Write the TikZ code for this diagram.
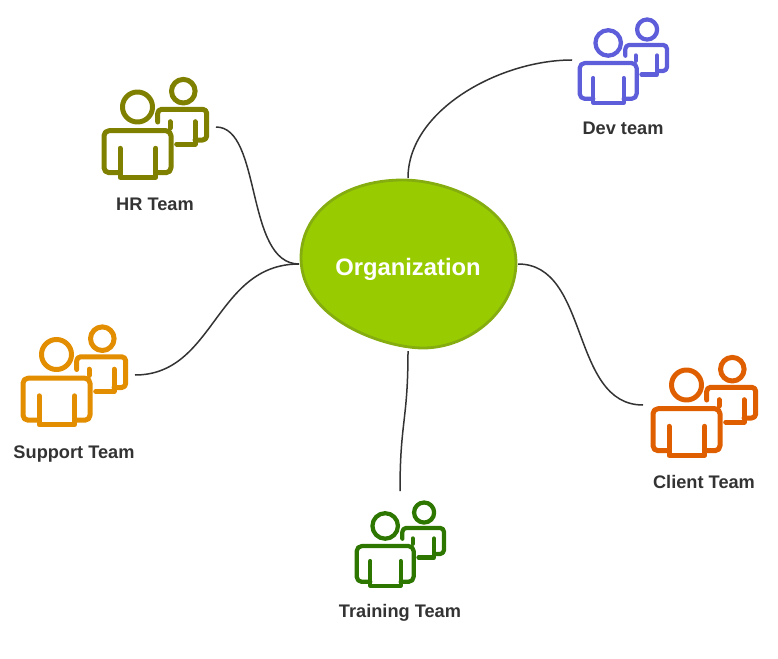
\documentclass[tikz,border=0pt]{standalone}
\usepackage{fontspec}
\setmainfont{Liberation Sans}
\definecolor{hrc}{HTML}{808000}
\definecolor{devc}{HTML}{5E5EDB}
\definecolor{clientc}{HTML}{DF5F00}
\definecolor{supportc}{HTML}{E38E00}
\definecolor{trainc}{HTML}{2D7600}
\definecolor{blobfill}{HTML}{99CC00}
\definecolor{blobline}{HTML}{85AD10}
\definecolor{ink}{HTML}{333333}
\tikzset{
  team label/.style={font=\fontsize{18.2pt}{20pt}\selectfont\bfseries,text=ink,inner sep=0pt,anchor=base},
  org label/.style={font=\fontsize{23.8pt}{26pt}\selectfont\bfseries,text=white,inner sep=0pt,anchor=base},
  link/.style={draw=ink,line width=1.5pt},
  iconline/.style={line cap=round,line join=round,fill=none},
}
\newcommand{\teamicon}[4]{%
  \begin{scope}[shift={(#1,#2)},scale=#3,iconline,draw=#4,line width=#3*5pt]
    \draw (81.3,11.2) circle (11.8);
    \draw[rounded corners=4] (55.7,42) -- (55.7,29.3) -- (104.7,29.3) -- (104.7,60) -- (93,60);
    \draw (68,41.7) -- (68,48);
    \draw (93,41.7) -- (93,64) -- (74.7,64);
    \draw (35.5,27) circle (15);
    \draw[rounded corners=5] (18,92.7) -- (2,92.7) -- (2,50.7) -- (69,50.7) -- (69,92.7) -- (53.7,92.7);
    \draw (18,68.3) -- (18,97.3) -- (53.7,97.3) -- (53.7,68.3);
  \end{scope}}
\begin{document}
\begin{tikzpicture}[x=1pt,y=-1pt]
  \useasboundingbox (0,0) rectangle (778,658);
  \coordinate (orgT) at (408,178);
  \coordinate (orgL) at (299,264);
  \coordinate (orgR) at (518,264);
  \coordinate (orgB) at (408,351);
  \coordinate (devEnd) at (572,60);
  \coordinate (hrEnd) at (216,127);
  \coordinate (supEnd) at (135,375);
  \coordinate (cliEnd) at (643,405);
  \coordinate (traEnd) at (400,491);
  \draw[link] (orgT) .. controls (408,110) and (500,60) .. (devEnd);
  \draw[link] (hrEnd) .. controls (262,127) and (245,264) .. (orgL);
  \draw[link] (supEnd) .. controls (215,375) and (215,264) .. (orgL);
  \draw[link] (orgR) .. controls (590,264) and (570,405) .. (cliEnd);
  \draw[link] (orgB) .. controls (408,421) and (400,421) .. (traEnd);
  \draw[fill=blobfill,draw=blobline,line width=2.8pt]
    (403,180) .. controls (445,180) and (515,205) .. (516,262)
    .. controls (516,310) and (470,348) .. (423,348)
    .. controls (385,348) and (301,320) .. (301,258)
    .. controls (301,215) and (340,180) .. (403,180) -- cycle;
  \node[org label] (org) at (408,275) {Organization};
  \teamicon{102}{80}{1}{hrc}
  \teamicon{651}{358}{1}{clientc}
  \teamicon{21}{327.5}{1}{supportc}
  \teamicon{578}{20}{0.85}{devc}
  \teamicon{355}{503}{0.85}{trainc}
  \node[team label] (hr) at (155,210) {HR Team};
  \node[team label] (dev) at (623,134) {Dev team};
  \node[team label] (client) at (704,488) {Client Team};
  \node[team label] (support) at (74,458) {Support Team};
  \node[team label] (training) at (400,617) {Training Team};
\end{tikzpicture}
\end{document}
